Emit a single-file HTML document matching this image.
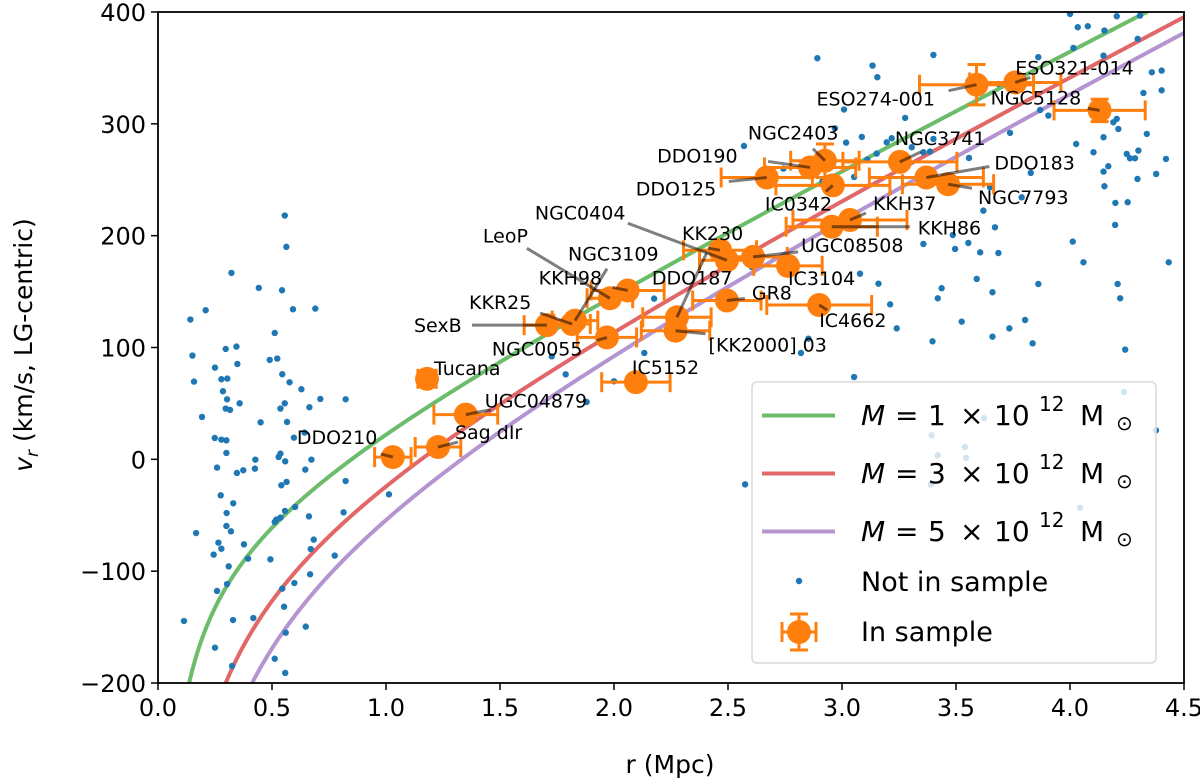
<!DOCTYPE html>
<html><head><meta charset="utf-8">
<style>
html,body{margin:0;padding:0;background:#fff;width:1200px;height:784px;overflow:hidden;}
svg{display:block;font-family:"DejaVu Sans","Liberation Sans",sans-serif;}
</style></head>
<body>
<svg id="chart" width="1200" height="784" viewBox="0 0 1200 784" xmlns="http://www.w3.org/2000/svg">
<defs><clipPath id="plotclip"><rect x="158" y="12" width="1026" height="671"/></clipPath></defs>
<rect x="0" y="0" width="1200" height="784" fill="#fff"/>
<g id="curves" clip-path="url(#plotclip)"></g>
<g id="bluedots" clip-path="url(#plotclip)"></g>
<g id="orange" clip-path="url(#plotclip)"></g>
<g id="labels"></g>
<rect x="158" y="12" width="1026" height="671" fill="none" stroke="#000" stroke-width="1.8"/>
<g id="xticks"></g>
<g id="yticks"></g>
<text x="670" y="773" font-size="25" text-anchor="middle">r (Mpc)</text>
<text transform="translate(32,345) rotate(-90)" font-size="25" text-anchor="middle"><tspan font-style="italic">v</tspan><tspan font-size="17" dy="6" font-style="italic">r</tspan><tspan dy="-6"> (km/s, LG-centric)</tspan></text>
<g id="legend">
<rect x="752" y="382" width="404" height="281" rx="5" fill="#fff" fill-opacity="0.8" stroke="#d9d9d9" stroke-width="1.5"/>
<line x1="762" y1="415.5" x2="835" y2="415.5" stroke="#2ca02c" stroke-opacity="0.7" stroke-width="4"/>
<line x1="762" y1="473.5" x2="835" y2="473.5" stroke="#d62728" stroke-opacity="0.7" stroke-width="4"/>
<line x1="762" y1="531.5" x2="835" y2="531.5" stroke="#9467bd" stroke-opacity="0.7" stroke-width="4"/>
<g font-size="28">
<text x="861" y="425" font-style="italic">M</text><text x="895" y="425">=</text><text x="928" y="425">1</text><text x="960" y="425">×</text><text x="994" y="425">10</text><text x="1039" y="411" font-size="20">12</text><text x="1080" y="425">M</text><text x="1116" y="430" font-size="20">⊙</text></g>
<g font-size="28">
<text x="861" y="483" font-style="italic">M</text><text x="895" y="483">=</text><text x="928" y="483">3</text><text x="960" y="483">×</text><text x="994" y="483">10</text><text x="1039" y="469" font-size="20">12</text><text x="1080" y="483">M</text><text x="1116" y="488" font-size="20">⊙</text></g>
<g font-size="28">
<text x="861" y="541" font-style="italic">M</text><text x="895" y="541">=</text><text x="928" y="541">5</text><text x="960" y="541">×</text><text x="994" y="541">10</text><text x="1039" y="527" font-size="20">12</text><text x="1080" y="541">M</text><text x="1116" y="546" font-size="20">⊙</text></g>
<circle cx="799" cy="581" r="3.2" fill="#1f77b4"/>
<text x="861" y="591" font-size="27">Not in sample</text>
<g stroke="#ff7f0e" stroke-width="3">
<line x1="782" y1="632" x2="816" y2="632"/><line x1="782" y1="622" x2="782" y2="642"/><line x1="816" y1="622" x2="816" y2="642"/>
<line x1="799" y1="614" x2="799" y2="650"/><line x1="790" y1="614" x2="808" y2="614"/><line x1="790" y1="650" x2="808" y2="650"/>
<circle cx="799" cy="632" r="12" fill="#ff7f0e" stroke="none"/></g>
<text x="861" y="641" font-size="27">In sample</text>
</g>
</svg>
<script>
// ---- data ----
const masses = [1, 3, 5];
const curveColors = ["#2ca02c", "#d62728", "#9467bd"];
const xTicks = [0, 0.5, 1, 1.5, 2, 2.5, 3, 3.5, 4, 4.5];
const xTickLabels = ["0.0","0.5","1.0","1.5","2.0","2.5","3.0","3.5","4.0","4.5"];
const yTicks = [-200, -100, 0, 100, 200, 300, 400];
const yTickLabels = ["\u2212200","\u2212100","0","100","200","300","400"];

const bgR = [0.556,0.563,0.322,0.442,0.544,0.209,0.142,0.592,0.690,0.512,0.151,0.297,0.344,0.250,0.348,0.490,0.523,0.158,0.278,0.304,0.545,0.577,0.285,0.629,0.303,0.712,0.823,0.358,0.556,0.297,0.316,0.537,0.664,0.193,0.450,0.566,0.249,0.278,0.300,0.596,0.643,0.300,0.427,0.529,0.537,0.558,0.259,0.346,0.374,0.425,0.646,0.673,0.541,0.564,0.823,0.275,0.330,0.301,0.557,0.601,0.512,0.519,0.537,0.662,0.814,1.013,0.167,0.300,0.320,0.265,0.278,0.244,0.377,0.395,0.493,0.683,0.670,0.775,0.310,0.303,0.259,0.545,0.598,0.667,0.114,0.329,0.418,0.553,0.560,0.648,0.250,0.325,0.512,0.558,
4.000,4.205,4.307,4.034,4.078,4.151,3.401,4.015,4.297,4.147,4.359,4.402,4.322,4.402,3.861,3.686,3.869,3.905,3.277,3.218,3.196,3.306,3.357,3.386,3.401,3.737,3.557,4.147,4.190,4.212,4.205,4.337,4.027,4.103,4.249,4.263,4.285,4.300,4.421,4.168,4.147,4.378,4.296,3.828,3.649,4.151,3.788,4.199,4.253,3.620,4.198,3.671,3.486,3.357,3.554,3.496,3.606,3.686,4.012,4.059,4.433,3.591,3.437,3.420,3.660,3.861,4.209,4.220,3.211,3.240,3.525,3.734,3.803,3.660,3.836,3.397,4.242,
2.570,3.087,3.018,3.152,3.111,3.053,2.915,2.743,3.079,3.160,2.176,2.604,2.133,1.727,1.788,2.000,2.820,2.853,3.053,1.880,
2.892,3.134,3.155,3.009,2.969,2.575,4.377,4.237,3.623,3.393,3.539,3.420,3.544,3.390,4.044];
const bgV = [218,190,166.7,153.3,151.2,133.3,125,134.2,134.8,113,92.8,98.7,100.8,82,85.3,88.9,90.1,69.5,71.6,72.2,76.1,68.9,60.9,62.7,53.7,54,53.7,50.1,50.1,45.4,44.2,45.4,46.6,37.9,33.1,33.4,19.1,17.6,17,19.4,23.9,5.7,-0.3,2.1,5.1,-1.8,-7.4,-12.2,-9.8,-8.3,-9.2,-0.3,-23.2,-20.2,-19.4,-32.2,-39.3,-48,-46.2,-42.6,-56,-53.9,-52.1,-51,-47.4,-31.3,-65.9,-59.6,-64.4,-74.5,-79.9,-85.2,-76,-88.8,-89.4,-71.8,-80.2,-86.1,-95.7,-111.5,-117.7,-115.6,-110.6,-102.8,-144.6,-143.7,-141.9,-131.8,-155,-149.6,-168.4,-184.8,-178.3,-191,
398.3,396.2,396.8,386.4,387.3,383.4,361.6,367.9,376,361,346.1,347.6,327.6,330,359.6,335.7,312.4,307.4,305.3,287.1,283.5,279.1,274.6,275.2,286.5,291.9,269.5,288,301.4,295.4,304.4,291,282,274.6,273.1,269.2,269.2,276.1,268.6,262.1,257.3,255.2,250.7,256.1,243.3,244.2,234.3,229.3,229.9,222.4,209.6,207.5,200.6,192.6,193.5,188.1,185.1,184.5,194.7,176.2,176.2,161.3,153,144,149.4,156.8,156.8,144,138.6,117.1,123.1,117.1,124.6,109.7,103.7,105.5,98.1,
280.2,288.3,283.2,273.4,268,252.5,248.9,260,166,157.1,143.7,172,95.1,92.1,76,69.8,95.1,107.9,73.6,51.3,
358.7,352.1,341.7,312.8,296,-22.4,25.9,60.2,36.7,21.5,11,3.6,1.2,-22.4,-43.2];

const galNames = ["DDO210","Sag dIr","Tucana","UGC04879","SexB","KKR25","NGC3109","LeoP","NGC0055","KKH98","NGC0404","KK230","DDO187","[KK2000] 03","UGC08508","IC3104","GR8","IC4662","IC5152","DDO125","DDO190","NGC2403","IC0342","KKH37","KKH86","NGC3741","DDO183","NGC7793","ESO274-001","ESO321-014","NGC5128"];
const galR = [1.03,1.228,1.18,1.35,1.706,1.816,1.829,1.982,1.969,2.06,2.495,2.465,2.276,2.27,2.61,2.763,2.495,2.90,2.096,2.67,2.86,2.925,2.96,3.035,2.955,3.254,3.37,3.465,3.59,3.76,4.13];
const galV = [2,11,72,40,120,121,124,144,109,151,178,187,127,115,181,173,142,138,69,252,261,267,245,214,208,266,252,246,335,337,312];
const galRerr = [0.08,0.10,0.04,0.14,0.10,0.08,0.10,0.10,0.13,0.16,0.12,0.16,0.15,0.15,0.15,0.15,0.15,0.23,0.15,0.20,0.20,0.15,0.25,0.25,0.20,0.25,0.25,0.20,0.25,0.20,0.20];
const galVerr = [5,5,5,5,5,5,5,5,5,5,5,5,5,5,5,5,5,5,5,5,5,15,5,5,5,5,5,5,18,5,10];

// label placement (pixel offsets from the marker; styling, not data)
const labDX = [-96,17,7,19,-133,-103,-7,-127,-115,-89,-192,-38,-25,33,48,0,25,0,-4,-131,-153,-77,-68,23,86,-5,68,30,-160,0,-109];
const labDY = [-20,-15,-11,-14,0,-22,-67,-63,11,-13,-48,-17,-40,14,-12,12,-8,15,-15,11,-12,-28,18,-17,1,-24,-15,13,14,-15,-13];
const leadDX = [-12,20,0,25,-75,-32,32,-83,-10,-15,-99,-12,30,30,45,0,18,8,0,-38,-42,-12,-7,16,78,21,63,24,-28,15,-12];
const leadDY = [-3,-5,0,-5,0,-11,-52,-50,3,-3,-37,-2,-65,3,-5,0,-2,5,0,4,-6,-12,6,-7,0,-10,-11,4,6,-5,-2];

// ---- scales ----
const X0=158, X1=1184, Y0=683, Y1=12;
const xs = r => X0 + (r-0)/(4.5-0)*(X1-X0);
const ys = v => Y0 - (v+200)/600*(Y0-Y1);
const NS="http://www.w3.org/2000/svg";
function mk(tag, attrs, parent){const e=document.createElementNS(NS,tag);for(const k in attrs)e.setAttribute(k,attrs[k]);parent.appendChild(e);return e;}

// model: v = H r - k M^0.42 / sqrt(r)
function model(r,M){return 101*r - 79*Math.pow(M,0.42)/Math.sqrt(r);}
const gC=document.getElementById('curves');
masses.forEach((M,i)=>{
  let d="";
  for(let k=0;k<=600;k++){const r=0.05+k*(4.6-0.05)/600;const v=model(r,M);d+=(k?"L":"M")+xs(r).toFixed(2)+","+ys(Math.max(v,-400)).toFixed(2);}
  const p=mk('path',{d:d,fill:"none",stroke:curveColors[i],"stroke-opacity":0.7,"stroke-width":4},gC);
  
  
});

// ticks
const gx=document.getElementById('xticks');
xTicks.forEach((t,i)=>{
  const l=mk('line',{x1:xs(t),x2:xs(t),y1:Y0,y2:Y0+7,stroke:"#000","stroke-width":1.5},gx);
  
  
  const tx=mk('text',{x:xs(t),y:Y0+33,"font-size":24,"text-anchor":"middle"},gx);
  tx.textContent=xTickLabels[i];
  
  
});
const gy=document.getElementById('yticks');
yTicks.forEach((t,i)=>{
  const l=mk('line',{x1:X0-7,x2:X0,y1:ys(t),y2:ys(t),stroke:"#000","stroke-width":1.5},gy);
  
  
  const tx=mk('text',{x:X0-12,y:ys(t)+9,"font-size":24,"text-anchor":"end"},gy);
  tx.textContent=yTickLabels[i];
  
  
});

// background points
const gb=document.getElementById('bluedots');
bgR.forEach((r,i)=>{
  const c=mk('circle',{cx:xs(r),cy:ys(bgV[i]),r:3.2,fill:"#1f77b4"},gb);
  
  
});

// in-sample points
const go=document.getElementById('orange');
const gl=document.getElementById('labels');
galNames.forEach((n,i)=>{
  const cx=xs(galR[i]), cy=ys(galV[i]);
  const xa=xs(galR[i]-galRerr[i]), xb=xs(galR[i]+galRerr[i]);
  const ya=ys(galV[i]-galVerr[i]), yb=ys(galV[i]+galVerr[i]);
  const g=mk('g',{stroke:"#ff7f0e","stroke-width":3},go);
  
  
  mk('line',{x1:xa,x2:xb,y1:cy,y2:cy},g);
  mk('line',{x1:xa,x2:xa,y1:cy-10,y2:cy+10},g);
  mk('line',{x1:xb,x2:xb,y1:cy-10,y2:cy+10},g);
  mk('line',{x1:cx,x2:cx,y1:ya,y2:yb},g);
  mk('line',{x1:cx-9,x2:cx+9,y1:ya,y2:ya},g);
  mk('line',{x1:cx-9,x2:cx+9,y1:yb,y2:yb},g);
  mk('circle',{cx:cx,cy:cy,r:12,fill:"#ff7f0e",stroke:"none"},g);
  if(leadDX[i]!==0||leadDY[i]!==0){
    const ln=mk('line',{x1:cx,y1:cy,x2:cx+leadDX[i],y2:cy+leadDY[i],stroke:"#000","stroke-opacity":0.5,"stroke-width":3},gl);
    
    
  }
  const t=mk('text',{x:cx+labDX[i],y:cy+labDY[i]+7,"font-size":19},gl);
  t.textContent=n;
  
  
});
// keep legend on top
document.getElementById('chart').appendChild(document.getElementById('legend'));
</script>
</body></html>
